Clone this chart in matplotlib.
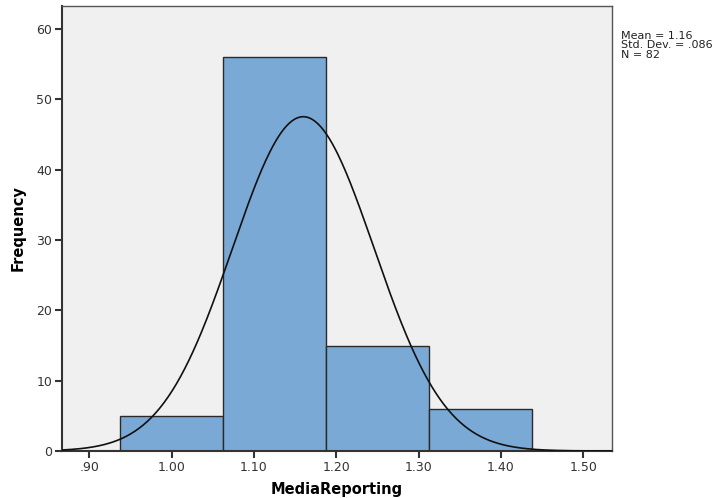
import matplotlib
matplotlib.use('Agg')
import matplotlib.pyplot as plt
import numpy as np

# histogram bins and counts
bin_edges = [0.9375, 1.0625, 1.1875, 1.3125, 1.4375]
counts = [5, 56, 15, 6]
mean_val = 1.16
std_val = 0.086
n_obs = 82
x_ticks = [0.90, 1.00, 1.10, 1.20, 1.30, 1.40, 1.50]
x_tick_labels = ['.90', '1.00', '1.10', '1.20', '1.30', '1.40', '1.50']
y_ticks = [0, 10, 20, 30, 40, 50, 60]

fig = plt.figure(figsize=(7.23, 4.98), dpi=100)
ax = fig.add_axes([0.0858, 0.0944, 0.7607, 0.8936])
ax.set_facecolor('#f0f0f0')

widths = np.diff(bin_edges)
ax.bar(bin_edges[:-1], counts, width=widths, align='edge',
       color='#7aa9d6', edgecolor='#2a2a2a', linewidth=1.0, zorder=2)

# normal curve scaled to counts
xs = np.linspace(0.867, 1.535, 400)
bw = widths[0]
ys = n_obs * bw / (std_val * np.sqrt(2 * np.pi)) * np.exp(-0.5 * ((xs - mean_val) / std_val) ** 2)
ax.plot(xs, ys, color='#111111', lw=1.2, zorder=3)

ax.set_xlim(0.867, 1.535)
ax.set_ylim(0, 63.3)
ax.set_xticks(x_ticks)
ax.set_xticklabels(x_tick_labels)
ax.set_yticks(y_ticks)
ax.tick_params(direction='out', length=5, width=1.5, color='#333333',
               labelsize=9, labelcolor='#333333', pad=2)

for side in ['left', 'bottom']:
    ax.spines[side].set_linewidth(1.5)
    ax.spines[side].set_color('#333333')
for side in ['top', 'right']:
    ax.spines[side].set_linewidth(1.0)
    ax.spines[side].set_color('#555555')

ax.set_xlabel('MediaReporting', fontsize=10.5, fontweight='bold', labelpad=6)
ax.set_ylabel('Frequency', fontsize=10.5, fontweight='bold', labelpad=8)

fig.text(0.859, 0.938, f'Mean = {mean_val:.2f}\nStd. Dev. = .086\nN = {n_obs}',
         fontsize=8, va='top', ha='left', linespacing=0.95, color='#222222')

plt.savefig('out.png', dpi=100)
